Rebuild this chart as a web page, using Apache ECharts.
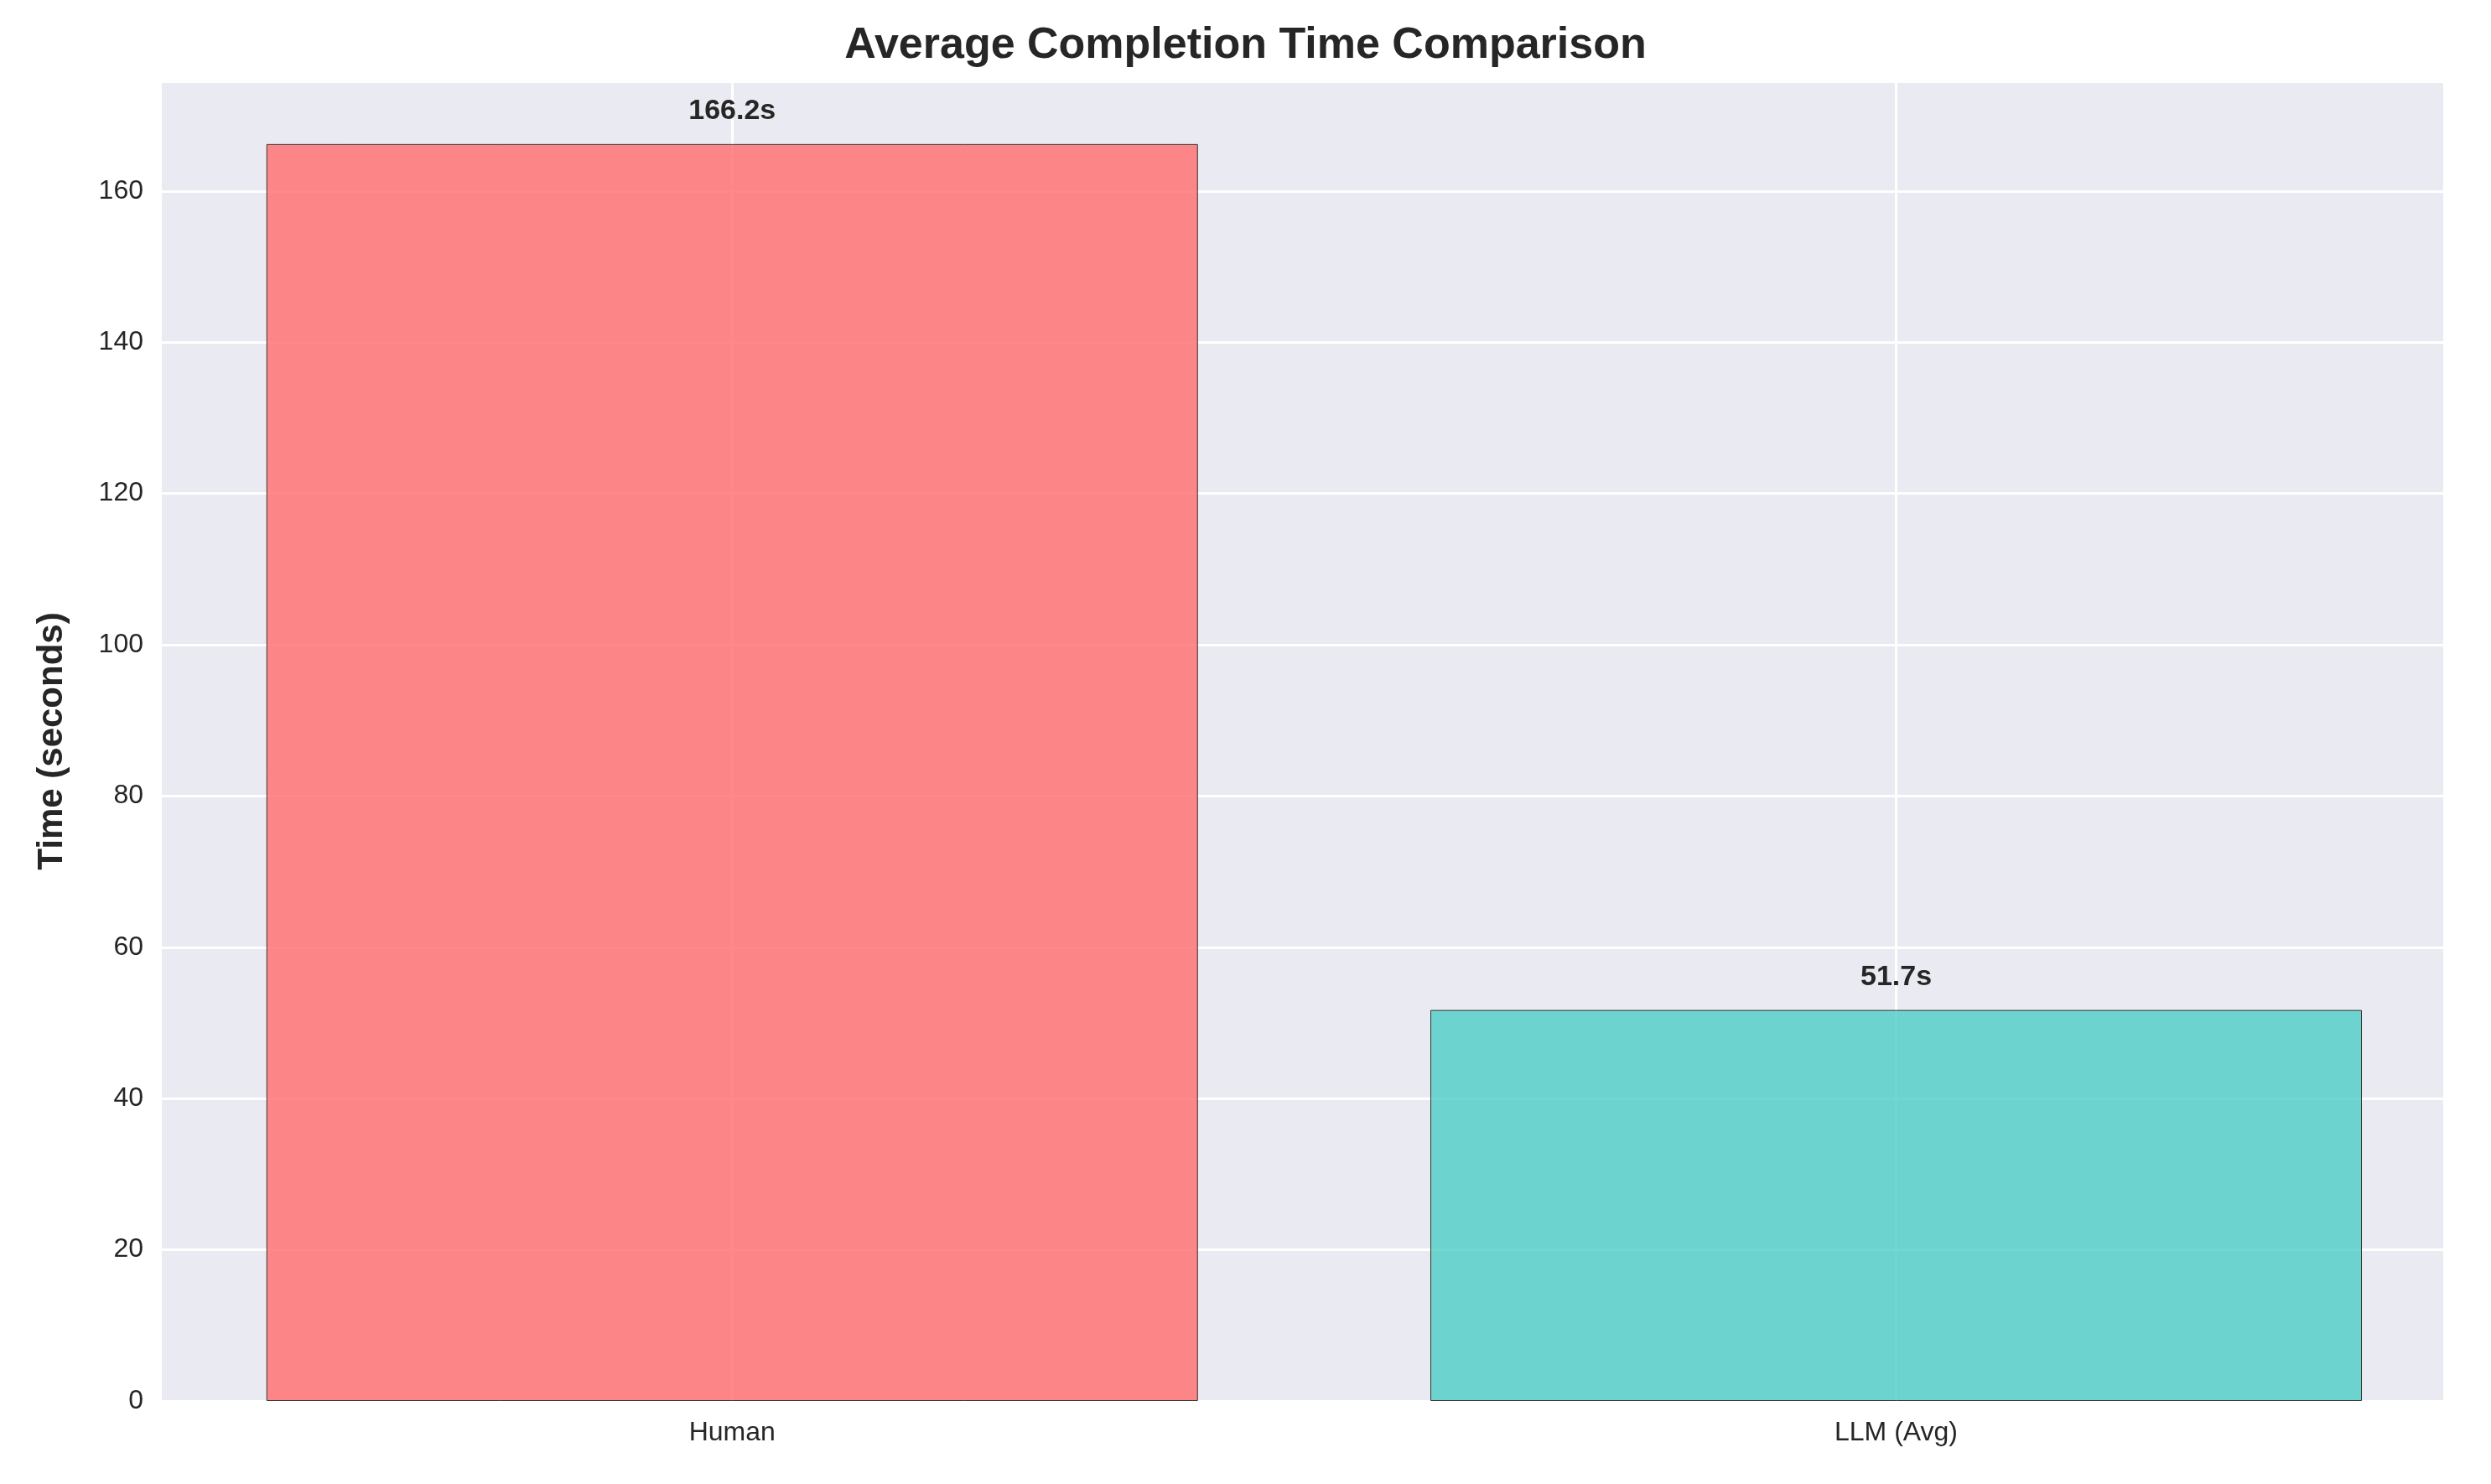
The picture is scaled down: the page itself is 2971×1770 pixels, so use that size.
<!DOCTYPE html>
<html>
<head>
<meta charset="utf-8">
<script src="https://cdn.jsdelivr.net/npm/echarts@6/dist/echarts.min.js"></script>
<style>html,body{margin:0;padding:0;background:#fff}#main{width:2971px;height:1770px}</style>
</head>
<body>
<div id="main"></div>
<script>
var categories = ['Human', 'LLM (Avg)'];
var positions = [0, 1];
var times = [166.2, 51.7];
var barColors = ['rgba(255,107,107,0.8)', 'rgba(78,205,196,0.8)'];

var chart = echarts.init(document.getElementById('main'));
var font = 'Liberation Sans, Arial, sans-serif';
chart.setOption({
    backgroundColor: '#fff',
    title: {
        text: 'Average Completion Time Comparison',
        left: 'center', top: 24,
        textStyle: {fontSize: 52, fontWeight: 'bold', color: '#262626', fontFamily: font}
    },
    grid: {left: 193, right: 57, top: 97, bottom: 99, backgroundColor: '#EAEAF2', show: true, borderWidth: 0},
    xAxis: {
        type: 'value', min: -0.49, max: 1.47,
        axisLine: {show: false},
        axisTick: {show: false, customValues: positions},
        axisLabel: {fontSize: 32, color: '#262626', margin: 22, fontFamily: font,
            customValues: positions,
            formatter: function (v) { return categories[Math.round(v)]; }},
        splitLine: {show: false}
    },
    yAxis: {
        type: 'value', min: 0, max: 174.5, interval: 20,
        name: 'Time (seconds)', nameLocation: 'middle', nameGap: 110,
        nameTextStyle: {fontSize: 42, fontWeight: 'bold', color: '#262626', fontFamily: font},
        axisLine: {show: false}, axisTick: {show: false},
        axisLabel: {fontSize: 32, color: '#262626', margin: 22, fontFamily: font,
            formatter: function (v) { return v > 174 ? '' : v; }},
        splitLine: {lineStyle: {color: '#fff', width: 3}}
    },
    series: [{
        type: 'line', data: [], z: 1,
        markLine: {
            silent: true, symbol: 'none', label: {show: false}, z: 1,
            lineStyle: {color: '#fff', width: 3, type: 'solid'},
            data: positions.map(function (p) { return {xAxis: p}; })
        }
    }, {
        type: 'bar', z: 3, barWidth: 1111,
        data: times.map(function (v, i) {
            return {value: [positions[i], v], itemStyle: {color: barColors[i], borderColor: '#333', borderWidth: 1}};
        }),
        label: {
            show: true, position: 'top', distance: 22,
            formatter: function (p) { return p.value[1].toFixed(1) + 's'; },
            fontSize: 34, fontWeight: 'bold', color: '#262626', fontFamily: font
        }
    }]
});
</script>
</body>
</html>
